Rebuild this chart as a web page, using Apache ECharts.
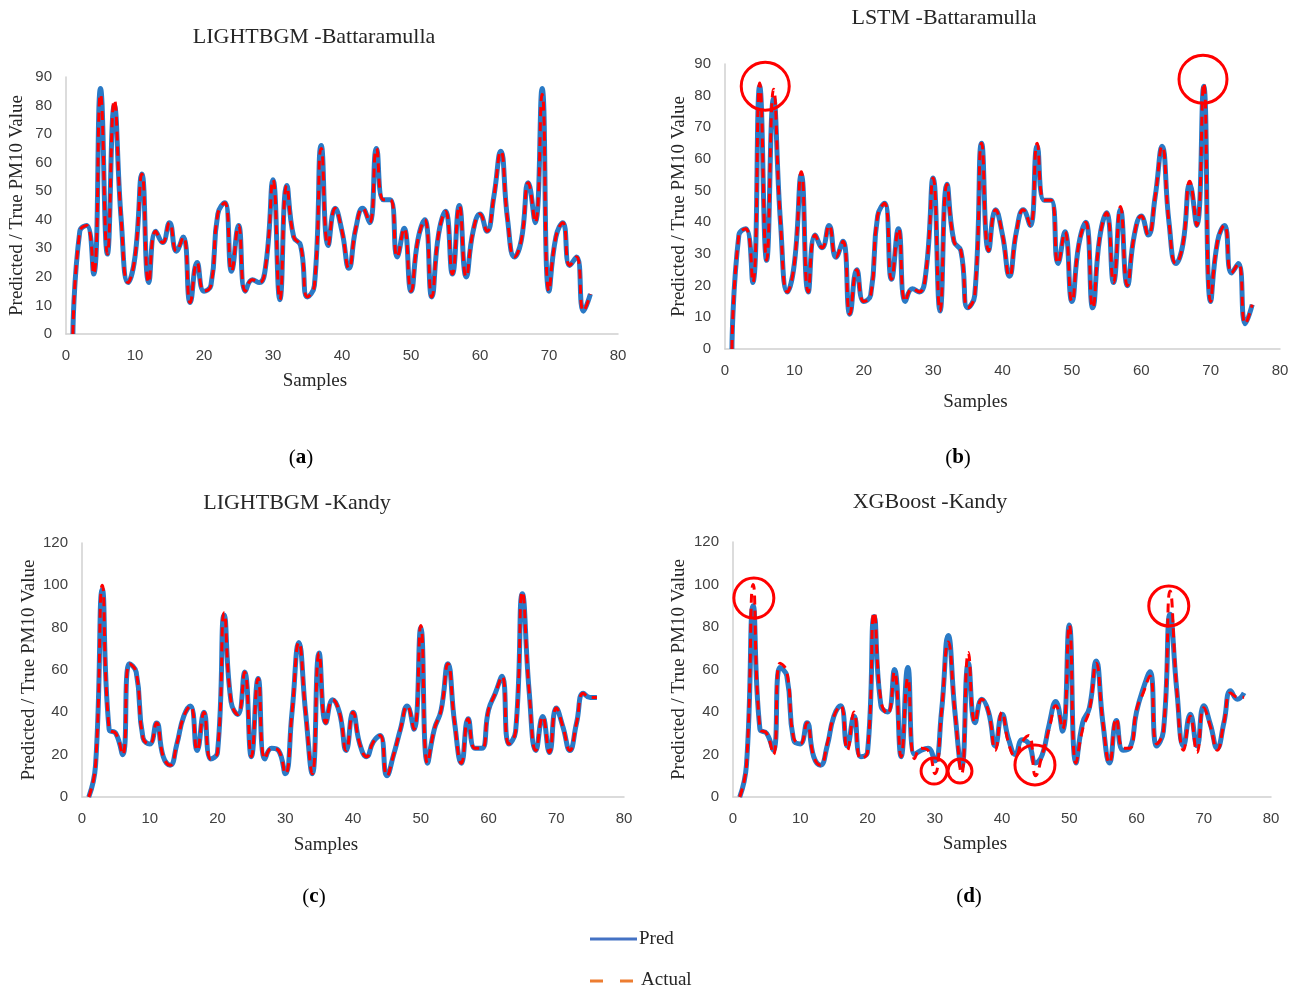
<!DOCTYPE html>
<html>
<head>
<meta charset="utf-8">
<script src="https://cdn.jsdelivr.net/npm/echarts@6/dist/echarts.min.js"></script>
<style>
  html, body { margin: 0; padding: 0; background: #fff; }
  #chart { width: 1299px; height: 988px; }
</style>
</head>
<body>
<div id="chart"></div>
<script>
// ground truth PM10, Battaramulla
const batActual = [0,36,38,21,84,28,82,40,18,27,56,18,36,32,39,29,34,11,25,15,17,42,46,22,38,15,19,18,25,54,12,52,34,31,13,17,65,31,44,36,23,37,44,39,65,47,47,27,37,15,33,40,13,35,43,21,45,20,36,42,36,48,64,40,27,33,53,39,84,15,34,39,24,27,8,14];
const batPredLgb = [0,36,38,21,86,28,80,40,18,27,56,18,36,32,39,29,34,11,25,15,17,42,46,22,38,15,19,18,25,54,12,52,34,31,13,17,66,31,44,36,23,37,44,39,65,47,47,27,37,15,33,40,13,35,43,21,45,20,36,42,36,48,64,40,27,33,53,39,86,15,34,39,24,27,8,14];
const batPredLstm = [0,36,38,21,83,28,79,40,18,27,55,18,36,32,39,29,34,11,25,15,17,42,46,22,38,15,19,18,25,54,12,52,34,31,13,17,65,31,44,36,23,37,44,39,64,47,47,27,37,15,33,40,13,35,43,21,44,20,36,42,36,48,64,40,27,33,52,39,83,15,34,39,24,27,8,14];

// ground truth PM10, Kandy
const kanActual = [0,15,100,32,30,20,63,59,28,25,35,19,15,25,38,43,22,40,18,21,87,45,39,59,19,56,18,23,22,11,40,73,40,11,68,35,46,40,22,40,25,19,26,29,10,20,32,43,32,81,16,32,41,63,35,16,37,23,23,41,49,57,25,31,97,50,22,38,21,42,33,22,35,49,47,47];
const kanPredLgb = [0,15,98,32,30,20,63,59,28,25,35,19,15,25,38,43,22,40,18,21,86,45,39,59,19,56,18,23,22,11,40,73,40,11,68,35,46,40,22,40,25,19,26,29,10,20,32,43,32,80,16,32,41,63,35,16,37,23,23,41,49,57,25,31,96,50,22,38,21,42,33,22,35,49,47,47];
const kanPredXgb = [0,15,90,32,30,22,61,57,27,25,35,19,15,24,38,43,24,38,19,21,85,43,40,60,19,61,20,22,23,17,40,76,40,14,63,35,46,40,24,39,27,20,27,25,16,20,34,45,31,81,16,35,42,64,35,16,36,22,23,40,51,59,24,31,86,50,24,39,24,43,34,23,35,50,46,49];

// red annotation circles: [sample, value, diameter]
const lstmCircles = [[5.8, 83, 48], [68.9, 85.2, 48]];
const xgbCircles = [[3.1, 93.6, 40], [29.9, 12.2, 26], [33.75, 12.2, 24], [44.9, 15.1, 40], [64.8, 89.9, 40]];

const xTicks = { min: 0, max: 80, interval: 10 };
const yTicksBat = { min: 0, max: 90, interval: 10 };
const yTicksKan = { min: 0, max: 120, interval: 20 };

const BLUE = "#2A7AC6";
const RED = "#FF0000";
const SERIF = "'Liberation Serif', 'DejaVu Serif', serif";
const SANS = "'Liberation Sans', Arial, sans-serif";

const panels = [
  { grid: { left: 66, top: 77, width: 552, height: 257 }, y: yTicksBat, pred: batPredLgb, actual: batActual,
    xGap: 38, yGap: 39, circles: [] },
  { grid: { left: 725, top: 64, width: 555, height: 285 }, y: yTicksBat, pred: batPredLstm, actual: batActual,
    xGap: 44, yGap: 36, circles: lstmCircles },
  { grid: { left: 82, top: 543, width: 542, height: 254 }, y: yTicksKan, pred: kanPredLgb, actual: kanActual,
    xGap: 39, yGap: 43, circles: [] },
  { grid: { left: 733, top: 542, width: 538, height: 255 }, y: yTicksKan, pred: kanPredXgb, actual: kanActual,
    xGap: 38, yGap: 44, circles: xgbCircles },
];

const toPairs = arr => arr.map((v, i) => [i + 1, v]);

const axisLine = { show: true, lineStyle: { color: "#d0d0d0", width: 1.5 } };
const tickLabel = { color: "#404040", fontFamily: SANS, fontSize: 15 };
const nameStyle = { color: "#262626", fontFamily: SERIF, fontSize: 19 };

const option = {
  animation: false,
  backgroundColor: "#fff",
  grid: panels.map(p => p.grid),
  xAxis: panels.map((p, i) => ({
    gridIndex: i, type: "value", ...xTicks,
    name: "Samples", nameLocation: "middle", nameGap: p.xGap,
    nameTextStyle: { ...nameStyle, padding: [0, 54, 0, 0] },
    axisLine, axisTick: { show: false }, splitLine: { show: false },
    axisLabel: { ...tickLabel, margin: 14 },
  })),
  yAxis: panels.map((p, i) => ({
    gridIndex: i, type: "value", ...p.y,
    name: "Predicted / True PM10 Value", nameLocation: "middle", nameGap: p.yGap, nameTextStyle: nameStyle,
    axisLine, axisTick: { show: false }, splitLine: { show: false },
    axisLabel: { ...tickLabel, margin: 14 },
  })),
  series: panels.flatMap((p, i) => [
    {
      name: "Pred", type: "line", xAxisIndex: i, yAxisIndex: i, data: toPairs(p.pred),
      smooth: 0.5, symbol: "none", lineStyle: { color: BLUE, width: 5 }, z: 2,
    },
    {
      name: "Actual", type: "line", xAxisIndex: i, yAxisIndex: i, data: toPairs(p.actual),
      smooth: 0.5, symbol: "none", lineStyle: { color: RED, width: 3, type: [9, 6] }, z: 3,
      markPoint: {
        symbol: "circle", silent: true, label: { show: false },
        itemStyle: { color: "rgba(0,0,0,0)", borderColor: RED, borderWidth: 3 },
        data: p.circles.map(c => ({ coord: [c[0], c[1]], symbolSize: c[2] })),
      },
    },
  ]),
  graphic: [
    ...[
      ["LIGHTBGM -Battaramulla", 314, 37],
      ["LSTM -Battaramulla", 944, 18],
      ["LIGHTBGM -Kandy", 297, 503],
      ["XGBoost -Kandy", 930, 502],
    ].map(([t, x, y]) => ({
      type: "text", x, y,
      style: { text: t, fill: "#262626", font: `22px ${SERIF}`, textAlign: "center", textVerticalAlign: "middle" },
    })),
    ...[["a", 301, 458], ["b", 958, 458], ["c", 314, 897], ["d", 969, 897]].map(([t, x, y]) => ({
      type: "text", x, y,
      style: {
        text: `({b|${t}})`, fill: "#000", font: `21px ${SERIF}`, textAlign: "center", textVerticalAlign: "middle",
        rich: { b: { fontWeight: "bold", fontSize: 21, fontFamily: SERIF, fill: "#000" } },
      },
    })),
    // legend
    { type: "line", shape: { x1: 590, y1: 939, x2: 637, y2: 939 }, style: { stroke: "#4472C4", lineWidth: 3 } },
    { type: "text", x: 639, y: 939, style: { text: "Pred", fill: "#262626", font: `19px ${SERIF}`, textVerticalAlign: "middle" } },
    { type: "line", shape: { x1: 590, y1: 981, x2: 637, y2: 981 }, style: { stroke: "#ED7D31", lineWidth: 3, lineDash: [13, 17] } },
    { type: "text", x: 641, y: 980, style: { text: "Actual", fill: "#262626", font: `19px ${SERIF}`, textVerticalAlign: "middle" } },
  ],
};

const chart = echarts.init(document.getElementById("chart"));
chart.setOption(option);
</script>
</body>
</html>
